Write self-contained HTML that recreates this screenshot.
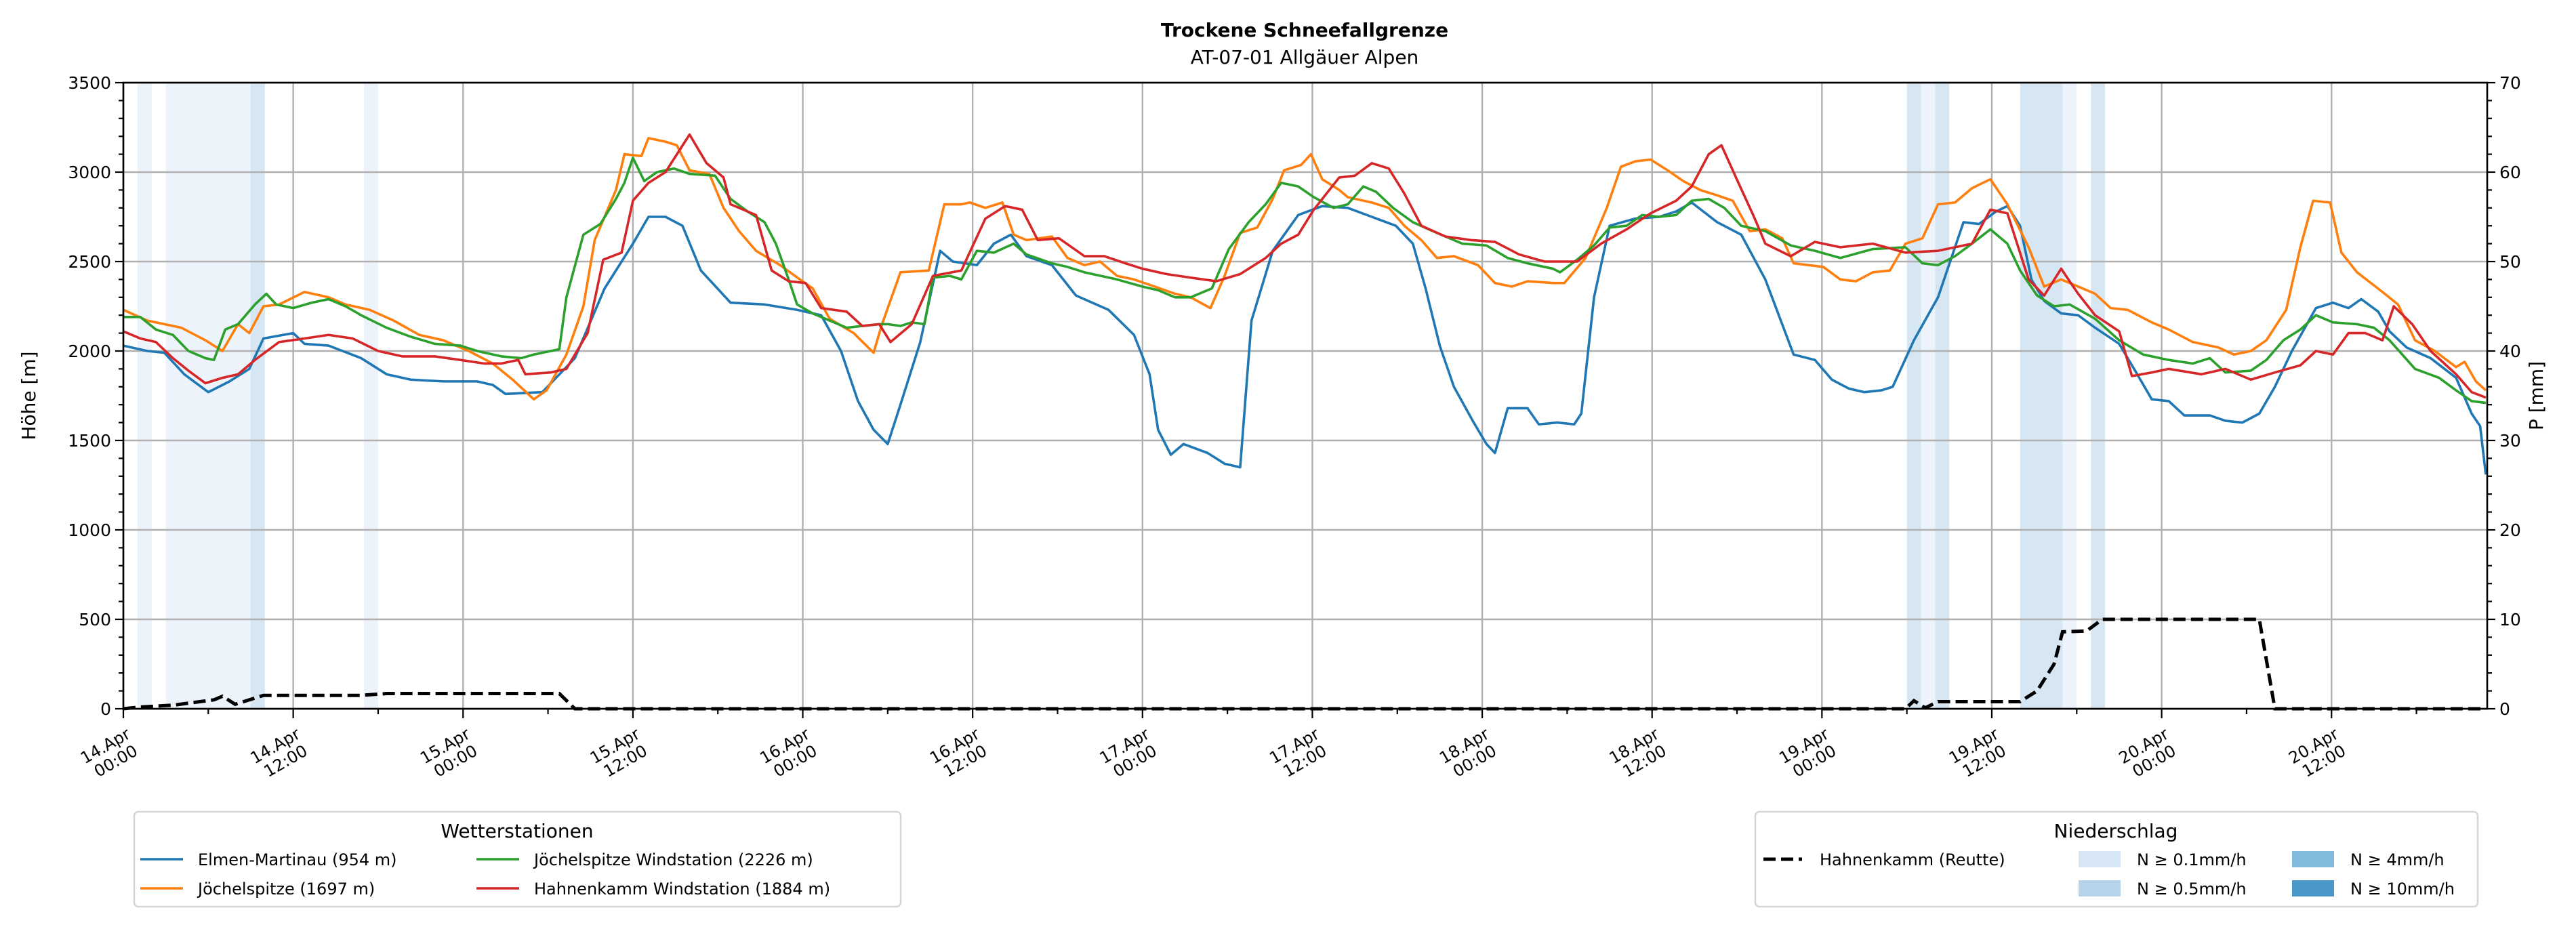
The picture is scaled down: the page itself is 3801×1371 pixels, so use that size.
<!DOCTYPE html>
<html><head><meta charset="utf-8"><style>
html,body{margin:0;padding:0;background:#fff}
svg{display:block;font-family:"DejaVu Sans","Liberation Sans",sans-serif}
</style></head><body>
<svg id="chart" width="3801" height="1371" viewBox="0 0 3801 1371" xmlns="http://www.w3.org/2000/svg">
<text x="1925" y="54" text-anchor="middle" font-size="28" font-weight="bold">Trockene Schneefallgrenze</text>
<text x="1925" y="94" text-anchor="middle" font-size="28">AT-07-01 Allgäuer Alpen</text>
<g id="plot"></g>
<text transform="translate(52,584) rotate(-90)" text-anchor="middle" font-size="28">Höhe [m]</text>
<text transform="translate(3752,584) rotate(-90)" text-anchor="middle" font-size="28">P [mm]</text>
</svg>
<script>
// ---- data (hours since 14.Apr 00:00) ----
const elmenHours=[0,1.7,2.9,4.3,6,7.5,8.9,9.9,12,12.8,14.5,16.8,18.6,20.3,22.6,25,26.1,27,29.6,31.9,34,36,37.1,38.3,39.5,40.8,42.9,45.3,47.6,49.3,50.7,51.9,53,54,54.9,56.3,57.7,58.6,60.3,61.5,62.7,63.8,65.6,67.3,69.6,71.4,72.5,73.1,74,74.9,76.6,77.8,78.9,79.7,81.2,83,84.7,86.5,88.2,89.9,91.1,92,93,94,95.4,96.3,96.9,97.8,99.2,100,101.3,102.5,103,103.9,105,106.8,108.5,109.7,110.8,112.6,114.3,116,118,119.5,120.7,121.9,123,124.2,125,126.5,128.2,130,131.1,132.3,133.1,134,134.8,135.7,136.9,138.1,139.3,141,142.2,143.3,144.5,145.6,147.4,148.5,149.7,150.9,152,153.2,154.9,156.1,157.2,158.1,159.3,160.1,161.3,163,164.8,165.9,166.5,166.9];
const elmenValues=[2030,2000,1990,1870,1770,1830,1900,2070,2100,2040,2030,1960,1870,1840,1830,1830,1810,1760,1770,1960,2350,2600,2750,2750,2700,2450,2270,2260,2230,2200,2000,1720,1560,1480,1700,2050,2560,2500,2480,2600,2650,2530,2480,2310,2230,2090,1870,1560,1420,1480,1430,1370,1350,2170,2560,2760,2810,2800,2750,2700,2600,2350,2030,1800,1600,1480,1430,1680,1680,1590,1600,1590,1650,2300,2700,2740,2750,2780,2830,2720,2650,2400,1980,1950,1840,1790,1770,1780,1800,2060,2300,2720,2710,2780,2810,2700,2400,2280,2210,2200,2130,2040,1880,1730,1720,1640,1640,1610,1600,1650,1800,2000,2240,2270,2240,2290,2220,2110,2020,1960,1850,1650,1580,1310];
const joechHours=[0,1.7,4.1,5.8,7,8.1,8.9,9.9,11,12.8,14.5,15.7,17.4,19.1,20.9,22.6,24.4,26.1,27.5,29,29.9,31.3,32.5,33.3,34.8,35.4,36.6,37.1,38.3,39.1,40,41.4,42.4,43.5,44.7,46.4,47.8,48.7,49.9,51.6,53,53.6,54.9,56.9,58,59.2,59.8,60.9,62.1,62.9,63.8,65.6,66.7,67.9,69,70.2,71.4,72.5,74.3,75.4,76.8,77.8,78.9,80.1,81.2,82,83.2,83.9,84.7,85.9,86.5,88.2,89.4,90.5,91.7,92.8,94,95.7,96.9,98.1,99.2,101,101.8,103.3,104.8,105.8,106.8,107.9,109.1,110.2,111.4,112.6,113.7,114.9,116,117.2,118,120.1,121.3,122.4,123.6,124.8,125.9,127.1,128.2,129.4,130.6,131.9,133.1,134.6,135.7,136.9,138.1,139.3,140.4,141.6,143.3,144.5,146.2,148,149.1,150.3,151.4,152.8,153.8,154.7,155.9,156.7,157.8,159.6,160.7,161.9,163.3,164.8,165.4,166.2,166.9];
const joechValues=[2230,2170,2130,2060,2000,2150,2100,2250,2260,2330,2300,2260,2230,2170,2090,2060,2000,1930,1840,1730,1780,1980,2250,2620,2900,3100,3090,3190,3170,3150,3010,2990,2800,2670,2560,2480,2400,2350,2180,2100,1990,2150,2440,2450,2820,2820,2830,2800,2830,2650,2620,2640,2520,2480,2500,2420,2400,2370,2320,2300,2240,2420,2660,2690,2850,3010,3040,3100,2960,2900,2860,2830,2800,2700,2620,2520,2530,2480,2380,2360,2390,2380,2380,2520,2800,3030,3060,3070,3010,2950,2900,2870,2840,2670,2680,2630,2490,2470,2400,2390,2440,2450,2600,2630,2820,2830,2910,2960,2820,2580,2360,2400,2360,2320,2240,2230,2160,2120,2050,2020,1980,2000,2060,2230,2580,2840,2830,2550,2440,2330,2260,2060,2000,1910,1940,1830,1780];
const windHours=[0,1.2,2.3,3.5,4.6,5.8,6.4,7.2,8.1,9.3,10.1,10.8,12,13.3,14.5,15.7,16.8,18.6,20.3,22,23.8,25,26.7,28.1,29,30.8,31.3,32.5,33.7,34.8,35.4,36,36.8,37.7,38.9,40,41.8,42.9,44.1,45.3,46.1,47,47.6,48.7,49.9,51.1,52.2,53.4,54,54.9,55.7,56.6,57.2,58.4,59.2,60.3,61.5,62.9,63.8,65.6,66.7,67.9,70.2,72,73.1,74.3,75.4,76.9,78.1,79.5,80.7,81.8,83,84.1,85.5,86.5,87.6,88.5,89.7,91.1,92.8,94.6,96.3,97.8,99.2,101,101.5,102.7,103.9,105,106.2,107.3,108.5,109.7,110.8,112,113.1,114.3,116,117.8,119.5,121.3,123.6,125.9,127.1,128.2,129.4,130.6,131.9,133.1,134,135.2,136.4,137.5,139.3,141,142.7,144.5,146.2,147.4,148.5,150.3,151.4,152.6,153.8,154.9,156.1,157.8,159,160.1,161.9,163.6,164.8,165.9,166.9];
const windValues=[2190,2190,2120,2090,2000,1960,1950,2120,2150,2260,2320,2260,2240,2270,2290,2250,2200,2130,2080,2040,2030,2000,1970,1960,1980,2010,2300,2650,2710,2850,2940,3080,2950,3000,3020,2990,2980,2850,2780,2720,2600,2400,2260,2210,2170,2130,2140,2150,2150,2140,2160,2150,2410,2420,2400,2560,2550,2600,2540,2490,2470,2440,2400,2360,2340,2300,2300,2350,2570,2720,2820,2940,2920,2860,2800,2820,2920,2890,2800,2720,2660,2600,2590,2520,2490,2460,2440,2510,2590,2690,2700,2760,2750,2760,2840,2850,2800,2700,2670,2590,2560,2520,2570,2580,2490,2480,2530,2600,2680,2600,2450,2310,2250,2260,2180,2060,1980,1950,1930,1960,1880,1890,1950,2060,2120,2200,2160,2150,2130,2060,1900,1850,1780,1720,1710];
const hahnHours=[0,1.2,2.3,3.5,4.6,5.8,7,8.1,9.3,11,12.8,14.5,16.2,18,19.7,22,23.8,25.5,26.7,27.9,28.4,30.2,31.3,32.8,33.9,35.2,36,37.1,38.3,40,41.2,42.4,42.9,44.7,45.8,47,48.2,49.3,51.1,52.2,53.4,54.2,55.7,57.2,59.2,60.9,62.3,63.5,64.6,66.1,67.9,69.3,70.8,72,73.7,75.4,77.2,78.9,80.7,81.8,83,84.1,85.9,87,88.2,89.4,90.5,91.7,93.4,95.2,96.9,98.6,100.4,102.7,104.4,106.2,107.9,109.7,110.8,112,112.9,114.1,115.2,116,117.8,119.5,121.3,123.6,125.9,128.2,130.6,131.9,133.1,134.6,135.7,136.9,138.1,139.3,141,141.9,143.3,144.5,146.8,148.5,150.3,152,153.8,154.9,156.1,157.2,158.4,159.6,160.4,161.7,163,164.8,165.9,166.9];
const hahnValues=[2110,2070,2050,1960,1890,1820,1850,1870,1950,2050,2070,2090,2070,2000,1970,1970,1950,1930,1930,1950,1870,1880,1900,2100,2510,2550,2840,2940,3000,3210,3050,2970,2820,2760,2450,2390,2380,2240,2220,2140,2150,2050,2150,2420,2450,2740,2810,2790,2620,2630,2530,2530,2490,2460,2430,2410,2390,2430,2520,2600,2650,2790,2970,2980,3050,3020,2880,2700,2640,2620,2610,2540,2500,2500,2600,2680,2770,2840,2920,3100,3150,2940,2750,2600,2530,2610,2580,2600,2550,2560,2600,2790,2770,2400,2310,2460,2320,2200,2110,1860,1880,1900,1870,1900,1840,1880,1920,2000,1980,2100,2100,2060,2250,2150,2000,1870,1770,1740];
const precipHours=[0,1.2,3.5,6.4,7,7.9,8.7,9.9,11,16.8,18.6,30.8,31.9,125.9,126.5,127.3,128.2,134,135.2,136.4,137,138.7,139.8,150.9,152,166.9];
const precipValues=[0,0.2,0.4,1,1.4,0.5,0.9,1.5,1.5,1.5,1.7,1.7,0,0,0.9,0.1,0.8,0.8,2,5,8.6,8.7,10,10,0,0];
const bandHours=[1,3,4,5,6,7,8,9,17,126,127,128,134,135,136,137,139];
const bandClass=[0,0,0,0,0,0,0,1,0,1,0,1,1,1,1,0,1];
const yTicks=[0,500,1000,1500,2000,2500,3000,3500];
const y2Ticks=[0,10,20,30,40,50,60,70];
const xTickHours=[0,12,24,36,48,60,72,84,96,108,120,132,144,156];
const xTickDays=["14.Apr","14.Apr","15.Apr","15.Apr","16.Apr","16.Apr","17.Apr","17.Apr","18.Apr","18.Apr","19.Apr","19.Apr","20.Apr","20.Apr"];
const xTickTimes=["00:00","12:00","00:00","12:00","00:00","12:00","00:00","12:00","00:00","12:00","00:00","12:00","00:00","12:00"];

const L=182,R=3670,T=122,B=1046,HMAX=167;
const xs=h=>L+(R-L)*h/HMAX;
const ys=v=>B-(B-T)*v/3500;
const ys2=v=>B-(B-T)*v/70;
const NS="http://www.w3.org/2000/svg";
const g=document.getElementById('plot');
function mk(tag,attrs,parent){const e=document.createElementNS(NS,tag);for(const k in attrs)e.setAttribute(k,attrs[k]);(parent||g).appendChild(e);return e;}

const bandCols=["#edf3fa","#d6e6f3"];
bandHours.forEach((h,i)=>{
  const r=mk('rect',{x:xs(h),y:T,width:xs(h+1)-xs(h),height:B-T,fill:bandCols[bandClass[i]]});
  
  
});
yTicks.forEach(v=>{const l=mk('line',{x1:L,x2:R,y1:ys(v),y2:ys(v),stroke:"#b0b0b0","stroke-width":2.4});
  
  });
xTickHours.forEach(h=>{const l=mk('line',{x1:xs(h),x2:xs(h),y1:T,y2:B,stroke:"#b0b0b0","stroke-width":2.4});
  
  });
function series(hs,vs,col,name){
  const p=mk('polyline',{points:hs.map((h,i)=>xs(h)+","+ys(vs[i])).join(" "),fill:"none",stroke:col,"stroke-width":3.6,"stroke-linejoin":"round"});
  
  
}
series(elmenHours,elmenValues,"#1f77b4","line-elmen-martinau");
series(joechHours,joechValues,"#ff7f0e","line-joechelspitze");
series(windHours,windValues,"#2ca02c","line-joechelspitze-windstation");
series(hahnHours,hahnValues,"#d62728","line-hahnenkamm-windstation");
const pp=mk('polyline',{points:precipHours.map((h,i)=>xs(h)+","+ys2(precipValues[i])).join(" "),fill:"none",stroke:"#000","stroke-width":5,"stroke-dasharray":"18,8"});


const fr=mk('rect',{x:L,y:T,width:R-L,height:B-T,fill:"none",stroke:"#000","stroke-width":2.6});


for(let v=0;v<=3500;v+=100){const maj=v%500===0;mk('line',{x1:L,x2:L-(maj?12:7),y1:ys(v),y2:ys(v),stroke:"#000","stroke-width":2.2});}
yTicks.forEach(v=>{const t=mk('text',{x:L-18,y:ys(v)+9,"text-anchor":"end","font-size":25});t.textContent=v;
  
  });
for(let v=0;v<=70;v+=2){const maj=v%10===0;mk('line',{x1:R,x2:R+(maj?12:7),y1:ys2(v),y2:ys2(v),stroke:"#000","stroke-width":2.2});}
y2Ticks.forEach(v=>{const t=mk('text',{x:R+18,y:ys2(v)+9,"text-anchor":"start","font-size":25});t.textContent=v;
  
  });
for(let h=0;h<=HMAX;h+=6){const maj=h%12===0;mk('line',{x1:xs(h),x2:xs(h),y1:B,y2:B+(maj?14:8),stroke:"#000","stroke-width":2.2});}
xTickHours.forEach((h,i)=>{
  const t=mk('text',{transform:`translate(${xs(h)+12},${B+42}) rotate(-30)`,"text-anchor":"end","font-size":24});
  
  
  const a=mk('tspan',{x:0,dy:0},t);a.textContent=xTickDays[i];
  const b=mk('tspan',{x:-3,dy:27},t);b.textContent=xTickTimes[i];
});
function box(x,y,w,h,name){const r=mk('rect',{x:x,y:y,width:w,height:h,rx:6,fill:"#fff",stroke:"#d6d6d6","stroke-width":2.5});
  
  }
box(198,1198,1131,140,'legend-stations');
let tt=mk('text',{x:763,y:1236,"text-anchor":"middle","font-size":28});tt.textContent="Wetterstationen";
const legNames=["Elmen-Martinau (954 m)","Jöchelspitze (1697 m)","Jöchelspitze Windstation (2226 m)","Hahnenkamm Windstation (1884 m)"];
const legCols=["#1f77b4","#ff7f0e","#2ca02c","#d62728"];
const legX=[207,207,703,703],legY=[1268,1311,1268,1311];
legNames.forEach((n,i)=>{
  const l=mk('line',{x1:legX[i],x2:legX[i]+63,y1:legY[i],y2:legY[i],stroke:legCols[i],"stroke-width":3.6});
  
  
  const t=mk('text',{x:legX[i]+85,y:legY[i]+9,"font-size":24});t.textContent=n;
  
  
});
box(2590,1198,1066,140,'legend-precip');
tt=mk('text',{x:3122,y:1236,"text-anchor":"middle","font-size":28});tt.textContent="Niederschlag";
const dl=mk('line',{x1:2602,x2:2659,y1:1268,y2:1268,stroke:"#000","stroke-width":5,"stroke-dasharray":"18,8"});


let dt=mk('text',{x:2685,y:1277,"font-size":24});dt.textContent="Hahnenkamm (Reutte)";


const swLabels=["N ≥ 0.1mm/h","N ≥ 0.5mm/h","N ≥ 4mm/h","N ≥ 10mm/h"];
const swCols=["#d6e6f4","#b7d4ea","#82badb","#4a98c9"];
const swX=[3067,3067,3382,3382],swY=[1256,1299,1256,1299];
swLabels.forEach((n,i)=>{
  const r=mk('rect',{x:swX[i],y:swY[i],width:62,height:24,fill:swCols[i]});
  
  
  const t=mk('text',{x:swX[i]+86,y:swY[i]+21,"font-size":24});t.textContent=n;
  
  
});
</script>
</body></html>
